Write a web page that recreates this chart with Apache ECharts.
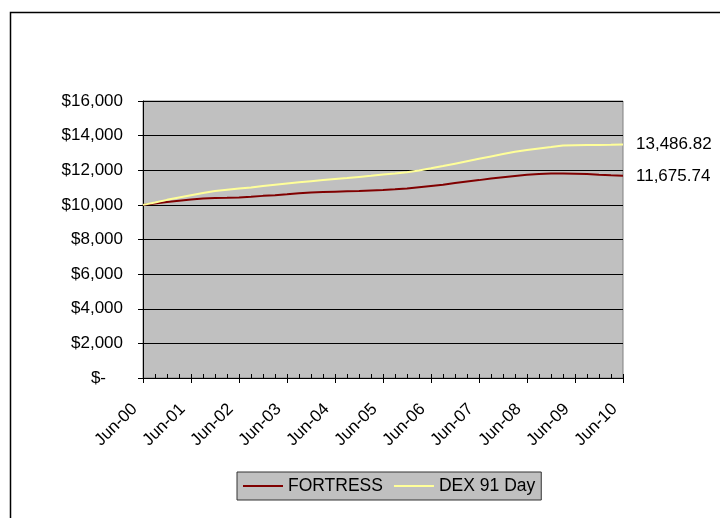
<!DOCTYPE html>
<html>
<head>
<meta charset="utf-8">
<script src="https://cdn.jsdelivr.net/npm/echarts@6/dist/echarts.min.js"></script>
<style>
html,body{margin:0;padding:0;background:#fff;}
#chart{width:720px;height:518px;}
</style>
</head>
<body>
<div id="chart"></div>
<script>
// Quarterly categories, Jun-00 .. Jun-10
var categories = [
  'Jun-00','Sep-00','Dec-00','Mar-01',
  'Jun-01','Sep-01','Dec-01','Mar-02',
  'Jun-02','Sep-02','Dec-02','Mar-03',
  'Jun-03','Sep-03','Dec-03','Mar-04',
  'Jun-04','Sep-04','Dec-04','Mar-05',
  'Jun-05','Sep-05','Dec-05','Mar-06',
  'Jun-06','Sep-06','Dec-06','Mar-07',
  'Jun-07','Sep-07','Dec-07','Mar-08',
  'Jun-08','Sep-08','Dec-08','Mar-09',
  'Jun-09','Sep-09','Dec-09','Mar-10',
  'Jun-10'
];

var fortress = [
  10000, 10080, 10160, 10240,
  10310, 10370, 10400, 10410,
  10430, 10470, 10520, 10560,
  10610, 10670, 10720, 10740,
  10760, 10780, 10800, 10830,
  10860, 10900, 10950, 11020,
  11090, 11160, 11260, 11350,
  11430, 11520, 11600, 11670,
  11740, 11790, 11810, 11815,
  11805, 11780, 11740, 11705,
  11675.74
];

var dex91 = [
  10000, 10140, 10290, 10430,
  10560, 10680, 10800, 10870,
  10940, 11010, 11085, 11160,
  11235, 11305, 11370, 11430,
  11490, 11550, 11615, 11680,
  11755, 11810, 11880, 11990,
  12110, 12240, 12380, 12520,
  12660, 12800, 12940, 13070,
  13170, 13260, 13340, 13430,
  13450, 13460, 13465, 13475,
  13486.82
];

var yTicks = { min: 0, max: 16000, interval: 2000 };
var seriesNames = ['FORTRESS', 'DEX 91 Day'];
var seriesColors = ['#800000', '#FFFF99'];

var FONT = 'Arial, "Liberation Sans", sans-serif';

function fmt2(p) {
  return Number(p.value).toLocaleString('en-US', { minimumFractionDigits: 2, maximumFractionDigits: 2 });
}

var chart = echarts.init(document.getElementById('chart'), null, { renderer: 'canvas' });

chart.setOption({
  animation: false,
  backgroundColor: '#fff',
  textStyle: { fontFamily: FONT, color: '#000' },
  graphic: [{
    type: 'rect',
    shape: { x: 10.5, y: 12.5, width: 720, height: 520 },
    style: { fill: 'none', stroke: '#000', lineWidth: 1.5 },
    silent: true, z: -10
  }],
  grid: {
    left: 143, top: 101, width: 480, height: 277,
    show: true, backgroundColor: '#C0C0C0',
    borderColor: '#808080', borderWidth: 1
  },
  legend: {
    left: 237, top: 472,
    padding: [5, 6, 5, 6],
    itemGap: 11,
    itemWidth: 40, itemHeight: 2,
    icon: 'rect',
    backgroundColor: '#C0C0C0',
    borderColor: '#333', borderWidth: 1,
    textStyle: { fontFamily: FONT, fontSize: 17.5, color: '#000' },
    data: seriesNames
  },
  xAxis: [{
    type: 'category',
    data: categories,
    boundaryGap: false,
    axisLine: { show: true, lineStyle: { color: '#000', width: 1 } },
    axisTick: { show: true, interval: 3, length: 5, inside: false, lineStyle: { color: '#000' } },
    axisLabel: {
      interval: 3, rotate: 45, margin: 20,
      padding: [0, 12, 0, 0],
      fontFamily: FONT, fontSize: 17, color: '#000'
    },
    splitLine: { show: false }
  }, {
    type: 'category',
    data: categories,
    boundaryGap: false,
    position: 'bottom',
    axisLine: { show: false },
    axisTick: { show: true, interval: 0, length: 4, inside: true, lineStyle: { color: '#000' } },
    axisLabel: { show: false },
    splitLine: { show: false }
  }],
  yAxis: {
    type: 'value',
    min: yTicks.min, max: yTicks.max, interval: yTicks.interval,
    axisLine: { show: true, lineStyle: { color: '#000', width: 1 } },
    axisTick: { show: true, length: 5, lineStyle: { color: '#000' } },
    axisLabel: {
      margin: 20, fontFamily: FONT, fontSize: 17, color: '#000',
      formatter: function (v) {
        if (v === 0) return '{z|$-}';
        return '$' + v.toLocaleString('en-US');
      },
      rich: { z: { fontFamily: FONT, fontSize: 17, color: '#000', padding: [0, 17, 0, 0] } }
    },
    splitLine: { show: true, lineStyle: { color: '#000', width: 1 } }
  },
  series: [{
    name: seriesNames[0],
    type: 'line',
    xAxisIndex: 0,
    data: fortress,
    symbol: 'none',
    lineStyle: { color: seriesColors[0], width: 2 },
    itemStyle: { color: seriesColors[0] },
    endLabel: {
      show: true, distance: 13,
      fontFamily: FONT, fontSize: 17, color: '#000',
      formatter: fmt2
    }
  }, {
    name: seriesNames[1],
    type: 'line',
    xAxisIndex: 0,
    data: dex91,
    symbol: 'none',
    lineStyle: { color: seriesColors[1], width: 2 },
    itemStyle: { color: seriesColors[1] },
    endLabel: {
      show: true, distance: 13,
      fontFamily: FONT, fontSize: 17, color: '#000',
      formatter: fmt2
    }
  }]
});
</script>
</body>
</html>
